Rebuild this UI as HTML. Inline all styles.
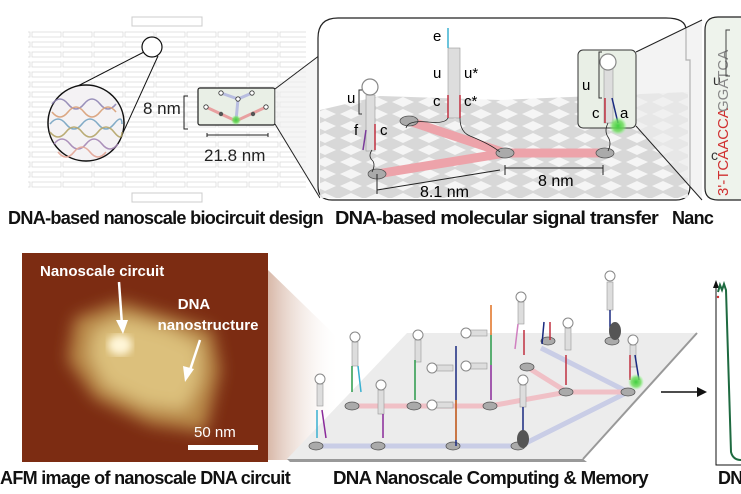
<!DOCTYPE html>
<html><head><meta charset="utf-8"><style>
body{margin:0;background:#fff;}
svg{display:block;font-family:"Liberation Sans",sans-serif;}
.cap{font-weight:bold;font-size:18px;letter-spacing:-0.7px;fill:#111;}
</style></head><body>
<svg width="741" height="494" viewBox="0 0 741 494" xmlns="http://www.w3.org/2000/svg">
<defs>
<pattern id="brick" width="31" height="10" patternUnits="userSpaceOnUse">
<rect x="1" y="2" width="29" height="5" fill="none" stroke="#dcdcdc" stroke-width="0.8"/>
</pattern>
<pattern id="mesh" width="26" height="12" patternUnits="userSpaceOnUse">
<rect width="26" height="12" fill="#d4d4d4"/>
<polygon points="13,1 24,6 13,11 2,6" fill="#f4f4f4"/>
</pattern>
<radialGradient id="glow"><stop offset="0" stop-color="#3fcf3f"/><stop offset="0.6" stop-color="#6ddc5a" stop-opacity="0.8"/><stop offset="1" stop-color="#8f8" stop-opacity="0"/></radialGradient>
<linearGradient id="fade" x1="0" x2="1"><stop offset="0" stop-color="#d8b8a8"/><stop offset="1" stop-color="#fff" stop-opacity="0"/></linearGradient>
<filter id="blur" x="-20%" y="-20%" width="140%" height="140%"><feGaussianBlur stdDeviation="8"/></filter>
<filter id="blur2"><feGaussianBlur stdDeviation="4"/></filter>
</defs>

<!-- Panel 1 brick -->
<rect x="28" y="30" width="278" height="160" fill="url(#brick)"/>
<rect x="132" y="17" width="70" height="9" fill="none" stroke="#ccc"/>
<rect x="132" y="193" width="70" height="9" fill="none" stroke="#ccc"/>
<circle cx="152" cy="47" r="10" fill="#fff" stroke="#111" stroke-width="1.2"/>
<line x1="144" y1="52" x2="70" y2="90" stroke="#111"/>
<line x1="158" y1="56" x2="122" y2="135" stroke="#111"/>
<circle cx="86" cy="123" r="38" fill="#f4f2f4" stroke="#111" stroke-width="1.5"/>
<g fill="none" stroke-width="1.6" opacity="0.85">
<path d="M52,104 q8,-10 16,0 t16,0 t16,0 t16,0" stroke="#8a7fb0"/>
<path d="M52,112 q8,10 16,0 t16,0 t16,0 t16,0" stroke="#d79a70"/>
<path d="M50,124 q8,-10 16,0 t16,0 t16,0 t16,0 t8,0" stroke="#6f9fbf"/>
<path d="M50,132 q8,10 16,0 t16,0 t16,0 t16,0 t8,0" stroke="#b0a060"/>
<path d="M54,144 q8,-10 16,0 t16,0 t16,0 t16,0" stroke="#9f80b0"/>
<path d="M58,152 q8,10 16,0 t16,0 t16,0" stroke="#e2a090"/>
</g>
<text x="143" y="114" font-size="17" fill="#222">8 nm</text>
<path d="M188,96 h-4 v33 h4" fill="none" stroke="#222"/>
<rect x="198" y="88" width="77" height="37" rx="2" fill="#e9efe6" stroke="#222" stroke-width="1.2"/>
<path d="M206,107 L236,121 L266,107" stroke="#e8a0a0" stroke-width="3" fill="none"/>
<path d="M221,93 L238,99 L252,93 M238,99 L236,121" stroke="#b8bde0" stroke-width="3" fill="none"/>
<circle cx="236" cy="120" r="5" fill="url(#glow)"/>
<g fill="#fff" stroke="#333" stroke-width="0.8"><circle cx="206" cy="107" r="2.2"/><circle cx="221" cy="93" r="2.2"/><circle cx="238" cy="99" r="2.2"/><circle cx="252" cy="93" r="2.2"/><circle cx="266" cy="107" r="2.2"/></g>
<circle cx="221" cy="114" r="2.2" fill="#555"/><circle cx="253" cy="114" r="2.2" fill="#555"/>
<path d="M207,133 v4 M207,135 h61 M268,133 v4" stroke="#222"/>
<text x="204" y="161" font-size="17" fill="#222">21.8 nm</text>
<polygon points="275,89 320,55 320,198 275,124" fill="#eee" opacity="0.6"/>
<line x1="275" y1="89" x2="320" y2="55" stroke="#222"/>
<line x1="275" y1="124" x2="320" y2="198" stroke="#222"/>
<text x="8" y="224" class="cap" textLength="315" lengthAdjust="spacingAndGlyphs">DNA-based nanoscale biocircuit design</text>

<!-- Panel 2 -->
<path d="M338,18 H666 Q686,18 686,30 V60 H690 V186 Q690,200 676,200 H332 Q318,200 318,186 V38 Q318,18 338,18 Z" fill="#fff" stroke="#222" stroke-width="1.2"/>
<polygon points="320,110 380,96 500,100 688,92 688,198 320,198" fill="url(#mesh)" opacity="0.9"/>
<path d="M377,174 L505,153 L603,153 M409,121 L505,153" stroke="#eda3aa" stroke-width="9" fill="none" stroke-linecap="round"/>
<g fill="#aaa" stroke="#555" stroke-width="0.8"><ellipse cx="377" cy="174" rx="9" ry="5"/><ellipse cx="409" cy="121" rx="9" ry="5"/><ellipse cx="505" cy="153" rx="9" ry="5"/><ellipse cx="605" cy="153" rx="9" ry="5"/></g>
<rect x="366" y="95" width="9" height="56" fill="#ddd" stroke="#999" stroke-width="0.6"/>
<circle cx="370" cy="87" r="8" fill="#fff" stroke="#888" stroke-width="1.2"/>
<line x1="375" y1="124" x2="375" y2="150" stroke="#c03040" stroke-width="1.5"/>
<line x1="366" y1="130" x2="363" y2="150" stroke="#7a3a9a" stroke-width="1.5"/>
<text x="347" y="103" font-size="15">u</text><text x="354" y="135" font-size="15">f</text><text x="380" y="135" font-size="15">c</text>
<path d="M362,90 h-3 v24 h3" fill="none" stroke="#333"/>
<path d="M372,150 q-4,6 0,10 t0,12" fill="none" stroke="#222" stroke-width="0.8"/>
<rect x="448" y="48" width="12" height="70" fill="#ddd" stroke="#999" stroke-width="0.6"/>
<line x1="448" y1="28" x2="448" y2="48" stroke="#3ab0d0" stroke-width="1.5"/>
<line x1="448" y1="95" x2="448" y2="118" stroke="#c03040" stroke-width="1.5"/>
<line x1="460" y1="95" x2="460" y2="118" stroke="#c03040" stroke-width="1.5"/>
<text x="433" y="41" font-size="15">e</text><text x="433" y="78" font-size="15">u</text><text x="464" y="78" font-size="15">u*</text>
<text x="433" y="106" font-size="15">c</text><text x="464" y="106" font-size="15">c*</text>
<path d="M448,118 q-3,6 -20,4 q-20,-2 -22,6" fill="none" stroke="#222" stroke-width="0.8"/>
<path d="M460,118 q0,14 10,18 q20,8 30,16" fill="none" stroke="#222" stroke-width="0.8"/>
<polygon points="636,52 702,20 702,200 636,126" fill="#eee" opacity="0.7"/>
<rect x="578" y="50" width="58" height="78" rx="5" fill="#e9efe6" stroke="#333" stroke-width="1"/>
<line x1="636" y1="52" x2="702" y2="20" stroke="#222"/><line x1="636" y1="126" x2="702" y2="200" stroke="#222"/>
<rect x="604" y="66" width="9" height="57" fill="#ddd" stroke="#999" stroke-width="0.6"/>
<circle cx="608" cy="62" r="8" fill="#fff" stroke="#888" stroke-width="1.2"/>
<line x1="605" y1="98" x2="605" y2="123" stroke="#c03040" stroke-width="1.5"/>
<line x1="612" y1="98" x2="618" y2="123" stroke="#1a2a80" stroke-width="1.5"/>
<circle cx="618" cy="126" r="9" fill="url(#glow)"/>
<text x="582" y="90" font-size="15">u</text><text x="592" y="118" font-size="15">c</text><text x="620" y="118" font-size="15">a</text>
<path d="M602,52 h-3 v46 h3" fill="none" stroke="#333"/>
<path d="M608,123 q-4,8 0,14 t0,14" fill="none" stroke="#222" stroke-width="0.8"/>
<path d="M377,174 v20 M377,190 L500,170 M505,165 v10 M505,168 H603 M603,165 v10" stroke="#222" fill="none"/>
<text x="420" y="197" font-size="16">8.1 nm</text><text x="538" y="186" font-size="16">8 nm</text>
<text x="335" y="224" class="cap" textLength="323" lengthAdjust="spacingAndGlyphs">DNA-based molecular signal transfer</text>

<!-- Panel 3 -->
<path d="M718,17 H745 V200 H718 Q705,200 705,188 V30 Q705,17 718,17 Z" fill="#eef3ec" stroke="#222" stroke-width="1.2"/>
<text x="713" y="85" font-size="14" fill="#333">u</text>
<text x="711" y="160" font-size="14" fill="#333">c</text>
<text transform="translate(728,196) rotate(-90)" font-size="15" fill="#d03030">3'-TCAACCA</text>
<text transform="translate(728,112) rotate(-90)" font-size="15" fill="#888">GGATCA</text>
<path d="M730,30 h-4 v46 h4" fill="none" stroke="#444"/>
<text x="672" y="224" class="cap">Nanc</text>

<!-- AFM -->
<rect x="22" y="253" width="246" height="209" fill="#7c2c12"/>
<g filter="url(#blur)">
<polygon points="75,318 120,302 175,318 212,330 220,370 205,432 150,424 95,398 68,360" fill="#b98a48"/>
<polygon points="95,330 125,318 170,330 200,345 200,380 185,410 145,405 105,385 90,355" fill="#dcc07c"/>
</g>
<ellipse cx="120" cy="345" rx="12" ry="10" fill="#fff6d8" filter="url(#blur2)"/>
<text x="40" y="276" font-size="15" font-weight="bold" fill="#fff">Nanoscale circuit</text>
<line x1="119" y1="282" x2="122" y2="325" stroke="#fff" stroke-width="2.5"/><polygon points="116,320 128,320 123,334" fill="#fff"/>
<text x="194" y="309" font-size="15" font-weight="bold" fill="#fff" text-anchor="middle">DNA</text>
<text x="208" y="330" font-size="15" font-weight="bold" fill="#fff" text-anchor="middle">nanostructure</text>
<line x1="200" y1="340" x2="190" y2="370" stroke="#fff" stroke-width="2.5"/><polygon points="183,366 194,369 185,382" fill="#fff"/>
<text x="194" y="437" font-size="15" fill="#fff">50 nm</text>
<rect x="188" y="445" width="70" height="5" fill="#fff"/>
<polygon points="268,270 340,340 340,460 268,460" fill="url(#fade)"/>
<text x="0" y="484" class="cap" textLength="290" lengthAdjust="spacingAndGlyphs">AFM image of nanoscale DNA circuit</text>

<!-- Plane -->
<polygon points="407,333 697,333 583,459 287,459" fill="#ececec"/>
<polygon points="287,459 583,459 587,462 290,462" fill="#999"/>
<line x1="583" y1="459" x2="697" y2="333" stroke="#999" stroke-width="2"/>
<path d="M316,446 H520 L628,392 L541,348 M520,446 L628,392" stroke="#c9cde6" stroke-width="5" fill="none"/>
<path d="M350,406 H490 L567,392 L628,392 M527,367 L567,392" stroke="#f0c0c6" stroke-width="5" fill="none"/>
<g fill="#aaa" stroke="#555" stroke-width="0.8">
<ellipse cx="316" cy="446" rx="7" ry="4"/><ellipse cx="378" cy="446" rx="7" ry="4"/><ellipse cx="453" cy="446" rx="7" ry="4"/><ellipse cx="518" cy="446" rx="7" ry="4"/>
<ellipse cx="352" cy="406" rx="7" ry="4"/><ellipse cx="414" cy="406" rx="7" ry="4"/><ellipse cx="490" cy="406" rx="7" ry="4"/>
<ellipse cx="527" cy="367" rx="7" ry="4"/><ellipse cx="566" cy="392" rx="7" ry="4"/><ellipse cx="628" cy="392" rx="7" ry="4"/>
<ellipse cx="548" cy="341" rx="7" ry="4"/><ellipse cx="612" cy="341" rx="7" ry="4"/>
</g>
<g stroke="#999" stroke-width="0.6" fill="#ddd">
<rect x="317" y="384" width="6" height="22"/><rect x="352" y="342" width="6" height="24"/><rect x="378" y="390" width="6" height="24"/>
<rect x="415" y="340" width="6" height="22"/><rect x="520" y="385" width="6" height="22"/><rect x="518" y="302" width="6" height="22"/>
<rect x="565" y="328" width="6" height="22"/><rect x="607" y="282" width="6" height="28"/><rect x="630" y="345" width="6" height="22"/>
<rect x="433" y="365" width="20" height="6"/><rect x="433" y="402" width="20" height="6"/><rect x="467" y="330" width="20" height="6"/><rect x="467" y="363" width="20" height="6"/>
</g>
<g fill="#fff" stroke="#888" stroke-width="1">
<circle cx="320" cy="379" r="5"/><circle cx="355" cy="337" r="5"/><circle cx="381" cy="385" r="5"/><circle cx="418" cy="335" r="5"/>
<circle cx="523" cy="380" r="5"/><circle cx="521" cy="297" r="5"/><circle cx="568" cy="323" r="5"/><circle cx="610" cy="276" r="5"/><circle cx="633" cy="340" r="5"/>
<circle cx="432" cy="368" r="5"/><circle cx="432" cy="405" r="5"/><circle cx="466" cy="333" r="5"/><circle cx="466" cy="366" r="5"/>
</g>
<g stroke-width="1.5" fill="none">
<path d="M317,410 v28" stroke="#3ab0d0"/><path d="M322,410 l4,28" stroke="#8a2a9a"/>
<path d="M352,366 v26" stroke="#2a9a4a"/><path d="M358,366 l3,26" stroke="#3ab0d0"/>
<path d="M383,414 v24" stroke="#8a2a9a"/><path d="M415,360 v40" stroke="#2a9a4a"/>
<path d="M456,346 v100" stroke="#1a2a80"/><path d="M456,400 v40" stroke="#e07020"/>
<path d="M491,305 v30" stroke="#e07020"/><path d="M491,335 v30" stroke="#2a9a4a"/><path d="M491,365 v35" stroke="#8a2a9a"/>
<path d="M518,324 l-3,25" stroke="#d080c0"/><path d="M524,330 v25" stroke="#c03040"/>
<path d="M523,407 v30" stroke="#1a2a80"/><path d="M566,355 v30" stroke="#c03040"/>
<path d="M544,322 l-2,22" stroke="#1a2a80"/><path d="M550,322 v18" stroke="#c03040"/>
<path d="M610,310 v20" stroke="#1a2a80"/><path d="M630,355 v25" stroke="#c03040"/><path d="M635,355 l4,25" stroke="#1a2a80"/>
</g>
<ellipse cx="523" cy="439" rx="6" ry="9" fill="#555"/><ellipse cx="615" cy="331" rx="6" ry="9" fill="#555"/>
<circle cx="636" cy="382" r="8" fill="url(#glow)"/>
<text x="333" y="484" class="cap" textLength="315" lengthAdjust="spacingAndGlyphs">DNA Nanoscale Computing &amp; Memory</text>

<!-- arrow & chart -->
<line x1="661" y1="392" x2="697" y2="392" stroke="#111" stroke-width="1.5"/>
<polygon points="697,387 707,392 697,397" fill="#111"/>
<path d="M716,283 V465 H741" stroke="#111" fill="none"/>
<polygon points="713,288 716,280 719,288" fill="#111"/>
<path d="M718,292 L720,285 L722,290 L724,284 L726,290 L731,452 Q733,460 741,460" stroke="#1e6a40" stroke-width="2" fill="none"/>
<circle cx="718" cy="297" r="1.2" fill="#d03030"/>
<text x="718" y="484" class="cap">DN</text>
</svg>
</body></html>
